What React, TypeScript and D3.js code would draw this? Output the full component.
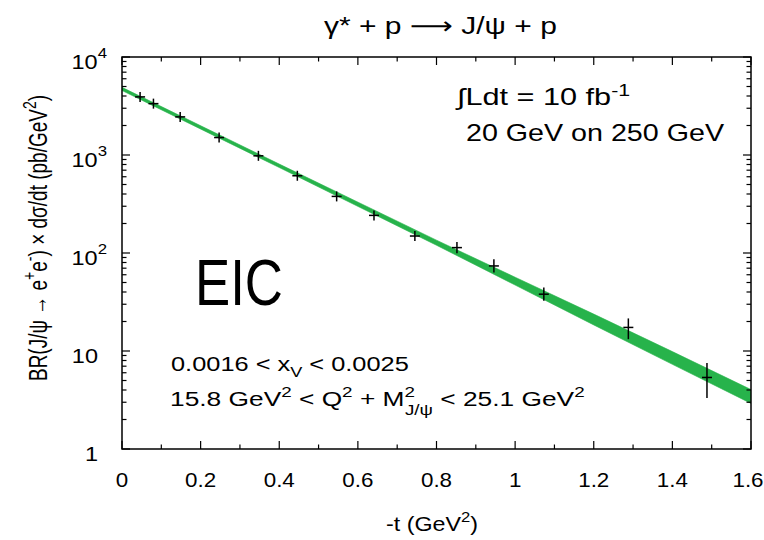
import React, { useLayoutEffect, useRef, useState } from "react";
import * as d3 from "d3";

const tValues = [0.046, 0.08, 0.148, 0.247, 0.347, 0.446, 0.546, 0.641, 0.745, 0.852, 0.946, 1.073, 1.288, 1.488];
const xsecValues = [3917, 3343, 2449, 1507, 981, 614, 378, 242, 149, 113.5, 73.8, 38, 17.4, 5.37];
const errLow = [3800, 3240, 2370, 1450, 940, 585, 355, 224, 134, 99.3, 63.1, 32.5, 13.2, 3.31];
const errHigh = [4040, 3450, 2530, 1570, 1025, 645, 402, 262, 166, 129.4, 86.3, 44.4, 21.5, 7.53];

const bandT = [0, 0.4, 0.8, 1.0, 1.2, 1.4, 1.6];
const bandLow = [4550, 745, 120, 47.1, 18.45, 7.31, 2.92];
const bandHigh = [4900, 808, 135.2, 56.6, 23.8, 9.86, 4.04];

const xTicks = [0, 0.2, 0.4, 0.6, 0.8, 1.0, 1.2, 1.4, 1.6];
const xTickLabels = ["0", "0.2", "0.4", "0.6", "0.8", "1", "1.2", "1.4", "1.6"];
const yTicks = [1, 10, 100, 1000, 10000];
const yTickBase = ["1", "10", "10", "10", "10"];
const yTickExp = ["", "", "2", "3", "4"];

const W = 764;
const H = 540;
const L = 122, R = 751, T = 57, B = 449;
const FONT = "'Liberation Sans', Arial, Helvetica, sans-serif";
const GREEN = "#27b34b";

function FitText({ x, y, w, fontSize, children }: { x: number; y: number; w: number; fontSize: number; children: React.ReactNode }) {
  const ref = useRef<SVGTextElement>(null);
  const [s, setS] = useState(1);
  useLayoutEffect(() => {
    if (ref.current) {
      const bb = ref.current.getBBox();
      if (bb.width > 0) setS(w / bb.width);
    }
  }, [w]);
  return (
    <g transform={`translate(${x},${y}) scale(${s},1)`}>
      <text ref={ref} x={0} y={0} fontSize={fontSize} fill="#000">
        {children}
      </text>
    </g>
  );
}

export default function App() {
  const x = d3.scaleLinear().domain([0, 1.6]).range([L, R]);
  const y = d3.scaleLog().domain([1, 10000]).range([B, T]);

  const band = d3
    .area<number>()
    .x((_, i) => x(bandT[i]))
    .y0((_, i) => y(bandLow[i]))
    .y1((_, i) => y(bandHigh[i]));

  const minorX: number[] = [];
  for (let v = 0.1; v < 1.6; v += 0.2) minorX.push(+v.toFixed(2));
  const minorY: number[] = [];
  for (let e = 0; e < 4; e++) for (let m = 2; m <= 9; m++) minorY.push(m * Math.pow(10, e));

  const bandPath = band(bandT) || "";
  const SX = 1.12;

  return (
    <svg width={W} height={H} style={{ position: "absolute", left: 0, top: 0, background: "#fff" }} fontFamily={FONT}>
      <rect x={0} y={0} width={W} height={H} fill="#fff" />
      <defs>
        <clipPath id="plotclip">
          <rect x={L} y={T} width={R - L} height={B - T} />
        </clipPath>
      </defs>
      {/* band */}
      <path d={bandPath} fill={GREEN} stroke={GREEN} strokeWidth={0.6} clipPath="url(#plotclip)" />

      {/* data points */}
      <g stroke="#000" strokeWidth={1.5}>
        {tValues.map((t, i) => {
          const cx = x(t);
          const cy = y(xsecValues[i]);
          return (
            <g key={i}>
              <line x1={cx} x2={cx} y1={Math.min(y(errHigh[i]), cy - 5)} y2={Math.max(y(errLow[i]), cy + 5)} />
              <line x1={cx - 5} x2={cx + 5} y1={cy} y2={cy} />
            </g>
          );
        })}
      </g>

      {/* frame */}
      <rect x={L} y={T} width={R - L} height={B - T} fill="none" stroke="#000" strokeWidth={1.5} />

      {/* ticks */}
      <g stroke="#000" strokeWidth={1.2}>
        {xTicks.map((v, i) => (
          <g key={"xt" + i}>
            <line x1={x(v)} x2={x(v)} y1={B} y2={B - 8} />
            <line x1={x(v)} x2={x(v)} y1={T} y2={T + 8} />
          </g>
        ))}
        {minorX.map((v, i) => (
          <g key={"xm" + i}>
            <line x1={x(v)} x2={x(v)} y1={B} y2={B - 4.5} />
            <line x1={x(v)} x2={x(v)} y1={T} y2={T + 4.5} />
          </g>
        ))}
        {yTicks.map((v, i) => (
          <g key={"yt" + i}>
            <line x1={L} x2={L + 8} y1={y(v)} y2={y(v)} />
            <line x1={R} x2={R - 8} y1={y(v)} y2={y(v)} />
          </g>
        ))}
        {minorY.map((v, i) => (
          <g key={"ym" + i}>
            <line x1={L} x2={L + 4.5} y1={y(v)} y2={y(v)} />
            <line x1={R} x2={R - 4.5} y1={y(v)} y2={y(v)} />
          </g>
        ))}
      </g>

      {/* x tick labels */}
      {xTicks.map((v, i) => (
        <g key={"xl" + i} transform={`translate(${Math.min(x(v), W - 16)},487) scale(${SX},1)`}>
          <text x={0} y={0} fontSize={20} textAnchor="middle" fill="#000">
            {xTickLabels[i]}
          </text>
        </g>
      ))}
      {/* y tick labels */}
      {yTicks.map((v, i) => (
        <g key={"yl" + i} transform={`translate(${yTickExp[i] ? 107 : 98},${y(v) + 12}) scale(${SX},1)`}>
          <text x={0} y={0} fontSize={21} textAnchor="end" fill="#000">
            {yTickBase[i]}
            {yTickExp[i] ? (
              <tspan fontSize={15} dy={-11}>
                {yTickExp[i]}
              </tspan>
            ) : null}
          </text>
        </g>
      ))}

      {/* title */}
      <FitText x={324} y={34} w={233} fontSize={24}>
        γ* + p <tspan fontFamily="'DejaVu Sans'">⟶</tspan> J/ψ + p
      </FitText>

      {/* x axis label */}
      <FitText x={386} y={531} w={92} fontSize={21}>
        -t (GeV<tspan fontSize={15} dy={-9}>2</tspan>
        <tspan dy={9}>)</tspan>
      </FitText>

      {/* y axis label */}
      <g transform="translate(47,238) scale(1.35,1) rotate(-90)">
        <text x={0} y={0} fontSize={19} textAnchor="middle" fill="#000">
          BR(J/ψ → e<tspan fontSize={14} dy={-8}>+</tspan>
          <tspan dy={8}>e</tspan>
          <tspan fontSize={14} dy={-8}>-</tspan>
          <tspan dy={8}>) × dσ/dt (pb/GeV</tspan>
          <tspan fontSize={14} dy={-8}>2</tspan>
          <tspan dy={8}>)</tspan>
        </text>
      </g>

      {/* annotations */}
      <FitText x={457} y={105} w={176} fontSize={23}>
        ∫Ldt = 10 fb<tspan fontSize={16} dy={-9}>-1</tspan>
      </FitText>
      <FitText x={466} y={141} w={259} fontSize={23}>
        20 GeV on 250 GeV
      </FitText>
      <FitText x={195} y={305} w={88} fontSize={65}>
        EIC
      </FitText>
      <FitText x={171} y={371} w={238} fontSize={21}>
        0.0016 &lt; x<tspan fontSize={15} dy={6}>V</tspan>
        <tspan dy={-6}> &lt; 0.0025</tspan>
      </FitText>
      <FitText x={170} y={406} w={415} fontSize={21}>
        15.8 GeV<tspan fontSize={15} dy={-9}>2</tspan>
        <tspan dy={9}> &lt; Q</tspan>
        <tspan fontSize={15} dy={-9}>2</tspan>
        <tspan dy={9}> + M</tspan>
        <tspan fontSize={15} dy={-9}>2</tspan>
        <tspan fontSize={15} dx={-8} dy={18}>J/ψ</tspan>
        <tspan dy={-9}> &lt; 25.1 GeV</tspan>
        <tspan fontSize={15} dy={-9}>2</tspan>
      </FitText>
    </svg>
  );
}
